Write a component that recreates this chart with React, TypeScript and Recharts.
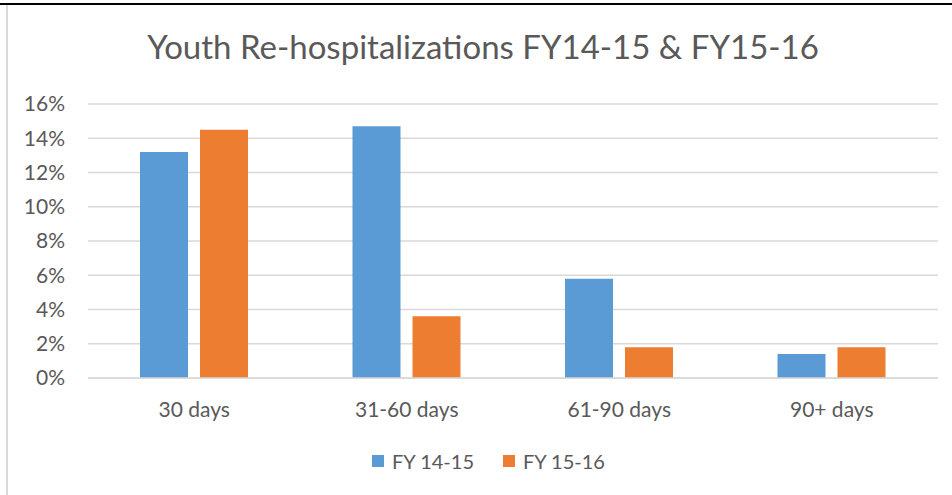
import React from 'react';
import { BarChart, Bar, XAxis, YAxis, CartesianGrid, Legend } from 'recharts';

const categories = ['30 days', '31-60 days', '61-90 days', '90+ days'];
const fy1415 = [0.132, 0.147, 0.058, 0.014];
const fy1516 = [0.145, 0.036, 0.018, 0.018];
const yTicks = [0, 0.02, 0.04, 0.06, 0.08, 0.1, 0.12, 0.14, 0.16];
const title = 'Youth Re-hospitalizations FY14-15 & FY15-16';

const data = categories.map((c, i) => ({ name: c, a: fy1415[i], b: fy1516[i] }));

const FONT = 'Lato, "Open Sans", sans-serif';
const TXT = '#595959';

const renderLegend = (props: any) => {
  const { payload } = props;
  return (
    <div style={{ display: 'flex', justifyContent: 'center', fontFamily: FONT, fontSize: 20, color: TXT, lineHeight: '24px', paddingLeft: 25 }}>
      {payload.map((p: any, i: number) => (
        <div key={i} style={{ display: 'flex', alignItems: 'center', marginLeft: i ? 29 : 0 }}>
          <div style={{ width: 12, height: 12, background: p.color, marginRight: 8 }} />
          <span>{p.value}</span>
        </div>
      ))}
    </div>
  );
};

export default function App() {
  return (
    <div style={{ position: 'absolute', left: 0, top: 0, width: 952, height: 495, background: '#fff', overflow: 'hidden' }}>
      <div style={{ position: 'absolute', left: 0, top: 3, width: 952, height: 2, background: '#000' }} />
      <div style={{ position: 'absolute', left: 6, top: 5, width: 2, height: 490, background: '#d9d9d9' }} />
      <div style={{ position: 'absolute', left: 0, top: 26, width: 966, textAlign: 'center', fontFamily: FONT, fontSize: 33, color: TXT, whiteSpace: 'nowrap' }}>
        {title}
      </div>
      <div style={{ position: 'absolute', left: 0, top: 0 }}>
        <BarChart width={952} height={495} data={data} margin={{ top: 104, right: 14, bottom: 53, left: 8 }} barGap={12} barCategoryGap={52}>
          <CartesianGrid vertical={false} stroke="#d9d9d9" strokeWidth={1.5} />
          <XAxis dataKey="name" axisLine={{ stroke: '#d9d9d9', strokeWidth: 1.5 }} tickLine={false} tick={{ fill: TXT, fontSize: 21, fontFamily: FONT }} tickMargin={18} height={40} />
          <YAxis width={80} domain={[0, 0.16]} ticks={yTicks} axisLine={false} tickLine={false} tickSize={0} tickMargin={23}
            tickFormatter={(v: number) => `${Math.round(v * 100)}%`} tick={{ fill: TXT, fontSize: 21, fontFamily: FONT }} />
          <Legend content={renderLegend} wrapperStyle={{ top: 449, left: 0, width: 952 }} />
          <Bar dataKey="a" name="FY 14-15" fill="#5b9bd5" isAnimationActive={false} />
          <Bar dataKey="b" name="FY 15-16" fill="#ed7d31" isAnimationActive={false} />
        </BarChart>
      </div>
    </div>
  );
}
